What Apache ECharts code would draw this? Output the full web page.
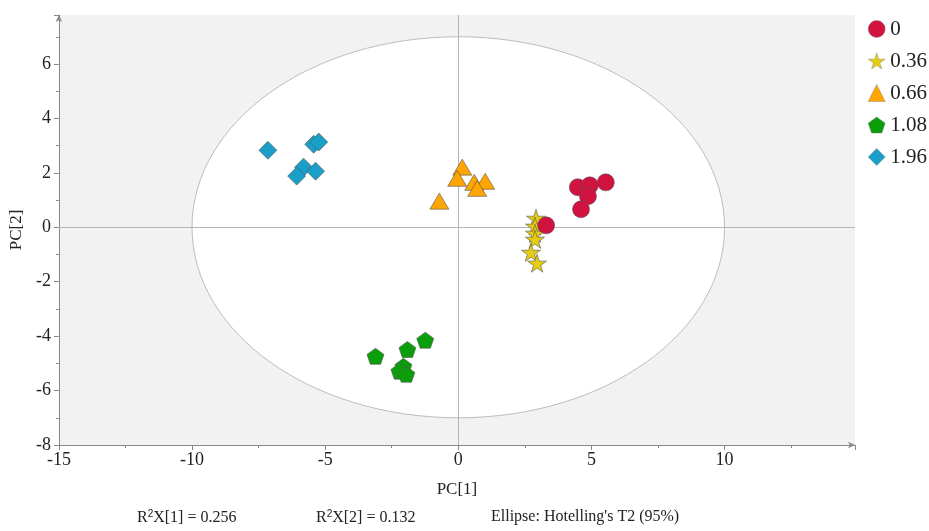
<!DOCTYPE html>
<html>
<head>
    <meta charset="UTF-8">
    <title>PCA score plot</title>
    <script type="text/javascript" src="https://cdn.jsdelivr.net/npm/echarts@6/dist/echarts.min.js"></script>
    <style>
        *{margin:0;padding:0}
        html,body{width:100%;height:100%;background:#fff}
        #main{width:929px;height:531px}
    </style>
</head>
<body>
<div id="main"></div>

<script type="text/javascript">
    // groups (legend names)
    var groups = ['0', '0.36', '0.66', '1.08', '1.96'];

    // scores [PC1, PC2] per group
    var pts0 = [[4.49, 1.47], [4.94, 1.54], [5.54, 1.65], [4.87, 1.14], [4.61, 0.66], [3.30, 0.07]];
    var pts036 = [[2.92, 0.33], [2.88, 0.04], [2.88, -0.22], [2.88, -0.44], [2.73, -0.92], [2.96, -1.32]];
    var pts066 = [[0.15, 2.21], [-0.04, 1.80], [0.60, 1.65], [1.01, 1.69], [0.71, 1.43], [-0.71, 0.96]];
    var pts108 = [[-3.11, -4.74], [-1.91, -4.49], [-1.24, -4.15], [-2.06, -5.11], [-2.21, -5.29], [-1.95, -5.40]];
    var pts196 = [[-7.15, 2.83], [-5.43, 3.05], [-5.24, 3.13], [-5.81, 2.21], [-5.36, 2.06], [-6.07, 1.88]];

    // Hotelling's T2 ellipse: center x, center y, semi axis x, semi axis y
    var ellipse = [[0, 0, 10, 7]];

    // summary texts
    var r2x1 = '0.256';
    var r2x2 = '0.132';

    var font = '"Liberation Serif", "DejaVu Serif", serif';
    var starPath = 'path://M50,0 L61,35 L98,35 L68,57 L79,91 L50,70 L21,91 L32,57 L2,35 L39,35 Z';
    var pentPath = 'path://M50,0 L98,35 L79,91 L21,91 L2,35 Z';

    function scat(name, data, symbol, size, color) {
        return {
            name: name,
            type: 'scatter',
            data: data,
            symbol: symbol,
            symbolSize: size,
            z: 5,
            itemStyle: {color: color, borderColor: '#555', borderWidth: 0.6, opacity: 1}
        };
    }

    var option = {
        animation: false,
        textStyle: {fontFamily: font},
        grid: {
            left: 55, right: 74, top: 15, bottom: 86,
            show: true, backgroundColor: '#f2f2f2', borderWidth: 0
        },
        legend: {
            orient: 'vertical',
            left: 863, top: 13,
            itemWidth: 17, itemHeight: 17, itemGap: 10,
            data: groups,
            itemStyle: {borderWidth: 0.4, borderColor: '#777'},
            textStyle: {fontFamily: font, fontSize: 21, color: '#222', lineHeight: 22}
        },
        xAxis: {
            type: 'value', min: -15, max: 14.9, interval: 5,
            name: 'PC[1]', nameLocation: 'middle', nameGap: 36,
            nameTextStyle: {fontFamily: font, fontSize: 17, color: '#222'},
            splitLine: {show: false},
            axisLine: {onZero: false, symbol: ['none', 'arrow'], symbolSize: [5, 7], lineStyle: {color: '#888'}},
            axisTick: {lineStyle: {color: '#888'}},
            minorTick: {show: true, splitNumber: 2, lineStyle: {color: '#888'}},
            axisLabel: {showMaxLabel: false, fontFamily: font, fontSize: 18, color: '#222', margin: 6}
        },
        yAxis: {
            type: 'value', min: -8, max: 7.8, interval: 2,
            name: 'PC[2]', nameLocation: 'middle', nameGap: 33,
            nameTextStyle: {fontFamily: font, fontSize: 17, color: '#222'},
            splitLine: {show: false},
            axisLine: {onZero: false, symbol: ['none', 'arrow'], symbolSize: [5, 7], lineStyle: {color: '#888'}},
            axisTick: {lineStyle: {color: '#888'}},
            minorTick: {show: true, splitNumber: 2, lineStyle: {color: '#888'}},
            axisLabel: {showMaxLabel: false, fontFamily: font, fontSize: 18, color: '#222', margin: 8}
        },
        series: [
            {
                type: 'custom',
                name: 'ellipse',
                silent: true,
                z: 1,
                data: ellipse,
                renderItem: function (params, api) {
                    var c = api.coord([api.value(0), api.value(1)]);
                    var s = api.size([api.value(2), api.value(3)]);
                    return {
                        type: 'ellipse',
                        shape: {cx: c[0], cy: c[1], rx: s[0], ry: s[1]},
                        style: {fill: '#fff', stroke: '#bdbdbd', lineWidth: 1}
                    };
                },
                markLine: {
                    silent: true,
                    symbol: 'none',
                    label: {show: false},
                    lineStyle: {color: '#b5b5b5', type: 'solid', width: 1},
                    data: [{xAxis: 0}, {yAxis: 0}]
                }
            },
            scat(groups[4], pts196, 'diamond', 18, '#1a9fc9'),
            scat(groups[3], pts108, pentPath, [17, 16], '#0b9e0b'),
            scat(groups[2], pts066, 'triangle', [19, 16], '#ffa500'),
            scat(groups[1], pts036, starPath, [19, 18], '#e6cc12'),
            scat(groups[0], pts0, 'circle', 17, '#d2123f')
        ],
        graphic: [
            {
                type: 'text', left: 137, top: 509,
                style: {
                    text: 'R{s|2}X[1] = ' + r2x1,
                    font: '16px ' + font, fill: '#222',
                    rich: {s: {fontSize: 10, verticalAlign: 'top', padding: [0, 0, 7, 0]}}
                }
            },
            {
                type: 'text', left: 316, top: 509,
                style: {
                    text: 'R{s|2}X[2] = ' + r2x2,
                    font: '16px ' + font, fill: '#222',
                    rich: {s: {fontSize: 10, verticalAlign: 'top', padding: [0, 0, 7, 0]}}
                }
            },
            {
                type: 'text', left: 491, top: 509,
                style: {
                    text: "Ellipse: Hotelling's T2 (95%)",
                    font: '16px ' + font, fill: '#222'
                }
            }
        ]
    };

    var myChart = echarts.init(document.getElementById('main'));
    myChart.setOption(option);
</script>
</body>
</html>
